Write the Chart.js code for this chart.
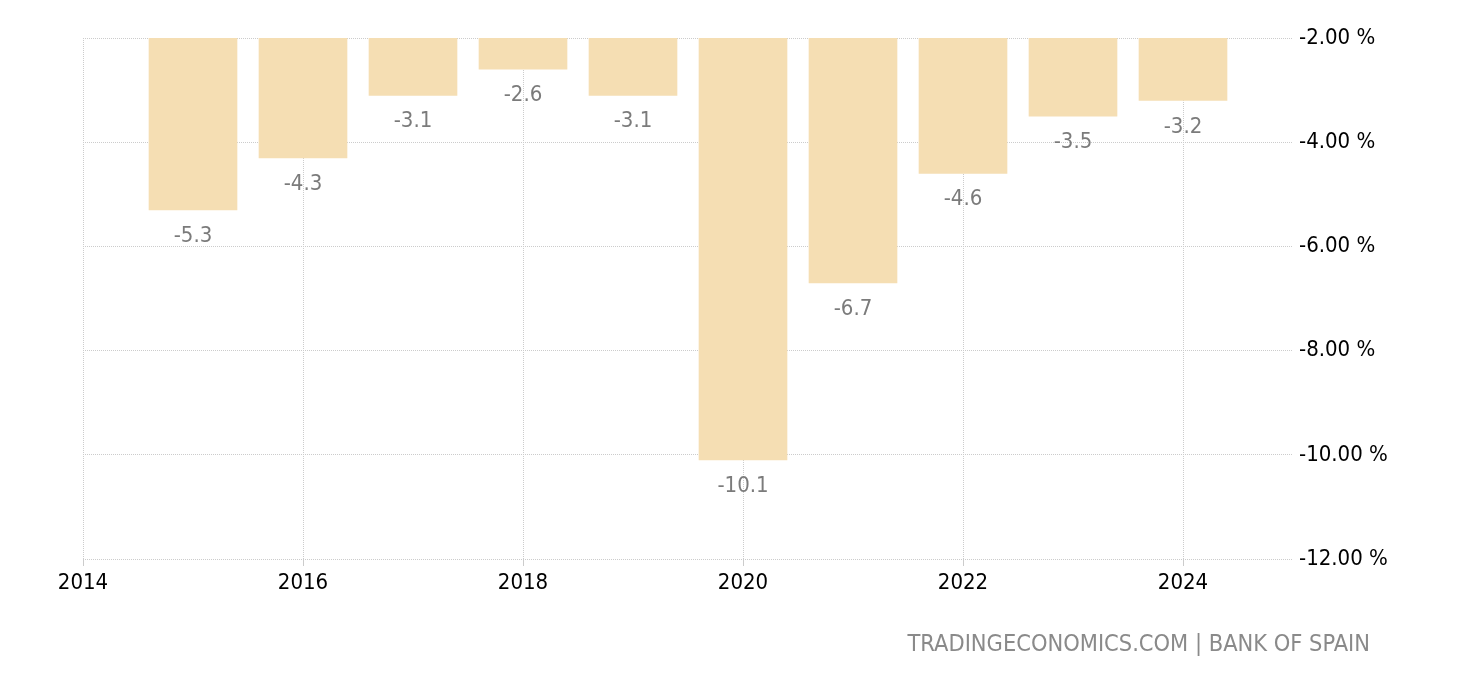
<!DOCTYPE html>
<html>
<head>
<meta charset="utf-8">
<script src="https://cdn.jsdelivr.net/npm/chart.js@4"></script>
<style>
  html, body { margin: 0; padding: 0; background: #fff; }
  #wrap { width: 1460px; height: 680px; position: relative; }
</style>
</head>
<body>
<div id="wrap"><canvas id="chartBudget"></canvas></div>
<script>
  const years = [2015, 2016, 2017, 2018, 2019, 2020, 2021, 2022, 2023, 2024];
  const deficit = [-5.3, -4.3, -3.1, -2.6, -3.1, -10.1, -6.7, -4.6, -3.5, -3.2];
  const xTicks = [2014, 2016, 2018, 2020, 2022, 2024];
  const yTicks = [-12, -10, -8, -6, -4, -2];

  const fontFamily = "'DejaVu Sans Condensed', 'DejaVu Sans', sans-serif";
  const yTop = yTicks[yTicks.length - 1];

  // etiquetas bajo cada barra y pie de fuente
  const labelPlugin = {
    id: 'labelPlugin',
    afterDatasetsDraw(chart) {
      const ctx = chart.ctx;
      const meta = chart.getDatasetMeta(0);
      ctx.save();
      ctx.font = '22px ' + fontFamily;
      ctx.fillStyle = '#7b7b7b';
      ctx.textAlign = 'center';
      ctx.textBaseline = 'alphabetic';
      meta.data.forEach((bar, i) => {
        const bottom = chart.scales.y.getPixelForValue(deficit[i]);
        ctx.fillText(deficit[i].toFixed(1), bar.x, bottom + 32);
      });
      ctx.restore();
    },
    afterDraw(chart) {
      const ctx = chart.ctx;
      ctx.save();
      ctx.font = '23.4px ' + fontFamily;
      ctx.fillStyle = '#8a8a8a';
      ctx.textAlign = 'right';
      ctx.textBaseline = 'alphabetic';
      ctx.fillText('TRADINGECONOMICS.COM | BANK OF SPAIN', 1370, 651);
      ctx.restore();
    }
  };

  new Chart('chartBudget', {
    type: 'bar',
    data: {
      datasets: [{
        data: years.map((yr, i) => ({ x: yr, y: [yTop, deficit[i]] })),
        backgroundColor: 'rgb(245, 222, 179)',
        borderWidth: 0,
        barThickness: 88
      }]
    },
    options: {
      responsive: true,
      maintainAspectRatio: false,
      animation: false,
      layout: { padding: { left: 83, top: 38, right: 0, bottom: 0 } },
      plugins: {
        legend: { display: false },
        tooltip: { enabled: false }
      },
      scales: {
        x: {
          type: 'linear',
          offset: false,
          min: 2014,
          max: 2025,
          afterBuildTicks: (scale) => { scale.ticks = xTicks.map(v => ({ value: v })); },
          afterFit: (scale) => { scale.height = 121; },
          border: { display: false, dash: [1, 1] },
          grid: {
            offset: false,
            color: '#cccccc',
            tickColor: '#cccccc',
            tickLength: 7,
            tickBorderDash: []
          },
          ticks: {
            color: '#000',
            padding: 4,
            maxRotation: 0,
            font: { family: fontFamily, size: 22 },
            callback: (v) => String(v)
          }
        },
        y: {
          position: 'right',
          min: -12,
          max: -2,
          afterBuildTicks: (scale) => { scale.ticks = yTicks.map(v => ({ value: v })); },
          afterFit: (scale) => { scale.width = 167; },
          border: { display: false, dash: [1, 1] },
          grid: {
            color: '#cccccc',
            drawTicks: false
          },
          ticks: {
            color: '#000',
            padding: 6,
            font: { family: fontFamily, size: 22 },
            callback: (v) => v.toFixed(2) + ' %'
          }
        }
      }
    },
    plugins: [labelPlugin]
  });
</script>
</body>
</html>
